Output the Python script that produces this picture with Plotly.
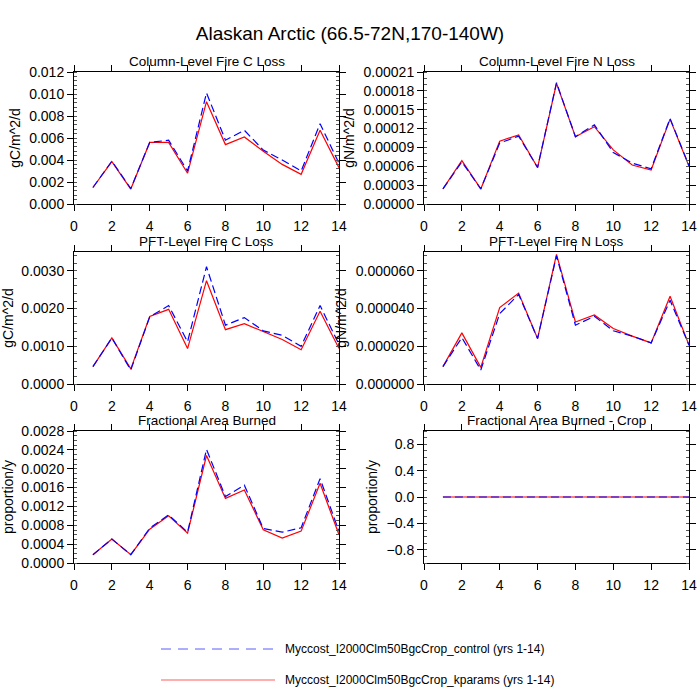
import plotly.graph_objects as go

# 14 model years, two runs (control vs kparams)
years = [1, 2, 3, 4, 5, 6, 7, 8, 9, 10, 11, 12, 13, 14]

col_c_control = [0.0015, 0.0039, 0.0014, 0.0056, 0.0058, 0.0030, 0.0101,
                 0.0058, 0.0067, 0.0049, 0.0040, 0.0030, 0.0073, 0.0037]
col_c_kparams = [0.0015, 0.00386, 0.00136, 0.0056, 0.0056, 0.0028, 0.0093,
                 0.0054, 0.0061, 0.0048, 0.0036, 0.0027, 0.0067, 0.0033]

col_n_control = [0.000024, 0.000067, 0.000024, 0.000097, 0.000108, 0.000058, 0.000193,
                 0.000107, 0.000126, 0.000082, 0.000065, 0.000056, 0.000136, 0.000061]
col_n_kparams = [0.000024, 0.000069, 0.000024, 0.000100, 0.000110, 0.000058, 0.000192,
                 0.000107, 0.000123, 0.000086, 0.000062, 0.000054, 0.000135, 0.000060]

pft_c_control = [0.00046, 0.00122, 0.00037, 0.00178, 0.00208, 0.00112, 0.00311,
                 0.00156, 0.00176, 0.00141, 0.00129, 0.00100, 0.00208, 0.00105]
pft_c_kparams = [0.00046, 0.00122, 0.00040, 0.00179, 0.00198, 0.00094, 0.00274,
                 0.00144, 0.00160, 0.00138, 0.00118, 0.00091, 0.00193, 0.00094]

pft_n_control = [0.0000092, 0.0000246, 0.0000074, 0.0000373, 0.0000475, 0.0000241, 0.0000680,
                 0.0000312, 0.0000359, 0.0000282, 0.0000254, 0.0000218, 0.0000444, 0.0000206]
pft_n_kparams = [0.0000092, 0.0000271, 0.0000088, 0.0000405, 0.0000482, 0.0000241, 0.0000687,
                 0.0000329, 0.0000366, 0.0000294, 0.0000254, 0.0000218, 0.0000465, 0.0000206]

burn_control = [0.000176, 0.000507, 0.000176, 0.000739, 0.00102, 0.000654, 0.00241,
                0.00141, 0.00165, 0.000732, 0.000654, 0.000746, 0.00179, 0.00067]
burn_kparams = [0.000176, 0.000507, 0.000176, 0.000718, 0.00100, 0.000633, 0.00228,
                0.00137, 0.00155, 0.000704, 0.000528, 0.000676, 0.00169, 0.000598]

crop_control = [0.0, 0.0, 0.0, 0.0, 0.0, 0.0, 0.0, 0.0, 0.0, 0.0, 0.0, 0.0, 0.0, 0.0]
crop_kparams = [0.0, 0.0, 0.0, 0.0, 0.0, 0.0, 0.0, 0.0, 0.0, 0.0, 0.0, 0.0, 0.0, 0.0]

panel_titles = ["Column-Level Fire C Loss", "Column-Level Fire N Loss",
                "PFT-Level Fire C Loss", "PFT-Level Fire N Loss",
                "Fractional Area Burned", "Fractional Area Burned - Crop"]
units = ["gC/m^2/d", "gN/m^2/d", "gC/m^2/d", "gN/m^2/d", "proportion/y", "proportion/y"]
control_name = "Myccost_I2000Clm50BgcCrop_control (yrs 1-14)"
kparams_name = "Myccost_I2000Clm50BgcCrop_kparams (yrs 1-14)"

series = [(col_c_control, col_c_kparams), (col_n_control, col_n_kparams),
          (pft_c_control, pft_c_kparams), (pft_n_control, pft_n_kparams),
          (burn_control, burn_kparams), (crop_control, crop_kparams)]

# y axis settings per panel: range, dtick, format, tick0, minor dtick
yaxes = [
    dict(range=[0, 0.012], dtick=0.002, tickformat=".3f", tick0=0, minor=0.0004),
    dict(range=[0, 0.00021], dtick=0.00003, tickformat=".5f", tick0=0, minor=0.00001),
    dict(range=[0, 0.0035], dtick=0.001, tickformat=".4f", tick0=0, minor=0.0002),
    dict(range=[0, 0.00007], dtick=0.00002, tickformat=".6f", tick0=0, minor=0.000004),
    dict(range=[0, 0.0028], dtick=0.0004, tickformat=".4f", tick0=0, minor=0.0001),
    dict(range=[-1, 1], dtick=0.4, tickformat=".1f", tick0=-0.8, minor=0.1),
]

W = 700
col_dom = [[74 / W, 339 / W], [424 / W, 689 / W]]
row_dom = [[1 - 204 / W, 1 - 72 / W], [1 - 384 / W, 1 - 252 / W], [1 - 563 / W, 1 - 431 / W]]

FONT = "Liberation Sans, Arial, sans-serif"

fig = go.Figure()
annotations = []
layout = {}

for i in range(6):
    r, c = divmod(i, 2)
    n = i + 1
    xa = "x" if n == 1 else f"x{n}"
    ya = "y" if n == 1 else f"y{n}"
    ctrl, kp = series[i]
    fig.add_trace(go.Scatter(x=years, y=kp, mode="lines", xaxis=xa, yaxis=ya,
                             line=dict(color="#ff0000", width=1.2), showlegend=False))
    fig.add_trace(go.Scatter(x=years, y=ctrl, mode="lines", xaxis=xa, yaxis=ya,
                             line=dict(color="#0000ff", width=1.2, dash="8px,4px"),
                             showlegend=False))
    ax_common = dict(showline=True, linecolor="black", linewidth=1, mirror="allticks",
                     ticks="outside", ticklen=6, tickcolor="black", showgrid=False,
                     zeroline=False, automargin=False,
                     tickfont=dict(size=14, color="black", family=FONT))
    layout["xaxis" if n == 1 else f"xaxis{n}"] = dict(
        domain=col_dom[c], anchor=ya, range=[0, 14], dtick=2, tick0=0,
        ticklabelstandoff=3, **ax_common)
    ycfg = yaxes[i]
    layout["yaxis" if n == 1 else f"yaxis{n}"] = dict(
        domain=row_dom[r], anchor=xa, range=ycfg["range"], dtick=ycfg["dtick"],
        tick0=ycfg["tick0"], tickformat=ycfg["tickformat"],
        minor=dict(ticks="inside", ticklen=3, dtick=ycfg["minor"], tickcolor="#555555"),
        title=dict(text=units[i], font=dict(size=14, color="black", family=FONT), standoff=5),
        **ax_common)
    annotations.append(dict(text=panel_titles[i], xref="paper", yref="paper",
                            x=sum(col_dom[c]) / 2, y=row_dom[r][1] + 1 / W,
                            xanchor="center", yanchor="bottom", showarrow=False,
                            font=dict(size=13.5, color="black", family=FONT)))

# legend drawn as lines + labels below the panels
legend_items = [(control_name, "#3333ff", "10px,7px", 649), (kparams_name, "#ff3333", "solid", 680)]
shapes = []
for name, color, dash, ypx in legend_items:
    shapes.append(dict(type="line", xref="paper", yref="paper",
                       x0=161 / W, x1=275 / W, y0=1 - ypx / W, y1=1 - ypx / W,
                       line=dict(color=color, width=0.8, dash=dash)))
    annotations.append(dict(text=name, xref="paper", yref="paper", x=283 / W, y=1 - ypx / W,
                            xanchor="left", yanchor="middle", showarrow=False,
                            font=dict(size=12, color="black", family=FONT)))

fig.update_layout(
    width=700, height=700,
    margin=dict(l=0, r=0, t=0, b=0),
    paper_bgcolor="white", plot_bgcolor="white",
    title=dict(text="Alaskan Arctic (66.5-72N,170-140W)", x=0.5, xanchor="center",
               y=1 - 33 / W, yanchor="middle", font=dict(size=19, color="black", family=FONT)),
    annotations=annotations, shapes=shapes,
    **layout,
)

# drop the default 8px page margin so the figure sits at the window corner
fig.write_html("out.html", config={"displayModeBar": False},
               post_script="document.body.style.margin = '0';")
